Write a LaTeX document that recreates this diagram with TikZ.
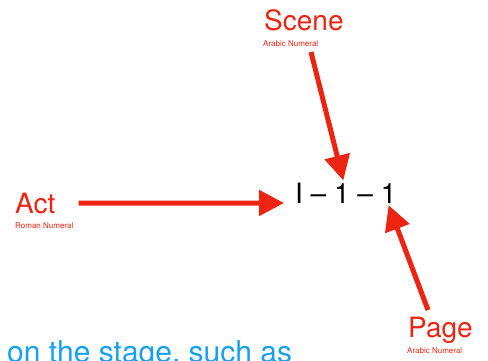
\documentclass[tikz,border=0pt]{standalone}
\usepackage{fontspec}
\setmainfont{TeX Gyre Heros}
\usetikzlibrary{arrows.meta}
\definecolor{keyred}{RGB}{238,36,18}
\definecolor{keyblue}{RGB}{22,160,240}

\begin{document}
\begin{tikzpicture}[x=1pt,y=-1pt,
        big/.style={inner sep=0pt, anchor=base west, font=\fontsize{28}{30}\selectfont},
        part/.style={big, text=keyred},
        note/.style={inner sep=0pt, anchor=base west, text=keyred, font=\fontsize{8}{9}\selectfont},
        arr/.style={keyred, line width=5pt, -{Triangle[length=25pt,width=25pt]}}]
        \useasboundingbox (0,0) rectangle (488,360);
        \node[big] (ref) at (295,203) {I \textendash\ 1 \textendash\ 1};
        \node[part] (scene) at (264,30) {Scene};
        \node[note] (scenenote) at (263,46) {Arabic Numeral};
        \node[part] (act) at (15,213) {Act};
        \node[note] (actnote) at (15,228) {Roman Numeral};
        \node[part] (page) at (408,337) {Page};
        \node[note] (pagenote) at (407,353) {Arabic Numeral};
        \node[big, text=keyblue, font=\fontsize{30}{32}\selectfont] (caption) at (7,362) {on the stage, such as};
        \coordinate (scenefoot) at (311,52);
        \coordinate (pagefoot) at (428,310);
        \draw[arr] (scenefoot) -- ([xshift=-2.5pt,yshift=2pt]ref.north);
        \draw[arr] ([xshift=23pt]act.east) -- ([xshift=-11pt]ref.base west);
        \draw[arr] (pagefoot) -- ([xshift=-8pt,yshift=-2pt]ref.south east);
        \end{tikzpicture}
\end{document}
